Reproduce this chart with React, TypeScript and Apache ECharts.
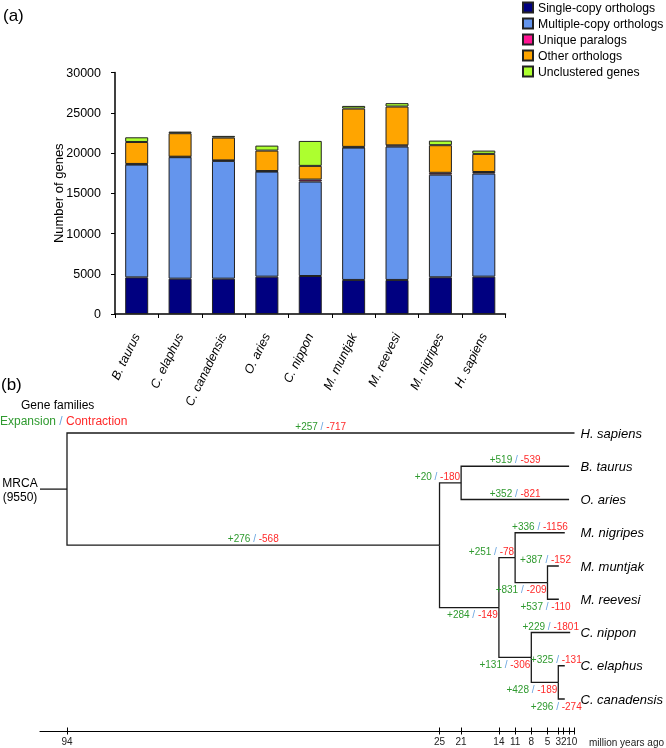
import React, { useEffect, useRef } from "react";
import * as echarts from "echarts";

const FONT = 'Arial, "Liberation Sans", Helvetica, sans-serif';

// ---------- (a) stacked bars ----------
const categories = ["B. taurus", "C. elaphus", "C. canadensis", "O. aries", "C. nippon", "M. muntjak", "M. reevesi", "M. nigripes", "H. sapiens"];
const singleCopy = [4550, 4390, 4390, 4640, 4720, 4230, 4230, 4560, 4640];
const multipleCopy = [14010, 15090, 14630, 13050, 11730, 16440, 16570, 12750, 12800];
const uniqueParalogs = [80, 60, 60, 70, 250, 90, 150, 230, 200];
const otherOrthologs = [2730, 2920, 2835, 2540, 1700, 4760, 4820, 3430, 2250];
const unclustered = [580, 200, 210, 620, 3100, 330, 420, 570, 410];
const barTicks = { min: 0, max: 30000, interval: 5000 };

// ---------- (b) gene family tree ----------
const nodeNames = ["MRCA", "H. sapiens", "Pecora", "Bovidae", "B. taurus", "O. aries", "Cervidae", "Muntiacinae", "M. nigripes", "Muntiacus", "M. muntjak", "M. reevesi", "Cervinae", "C. nippon", "Cervus", "C. elaphus", "C. canadensis"];
const nodeParent = [-1, 0, 0, 2, 3, 3, 2, 6, 7, 7, 9, 9, 6, 12, 12, 14, 14];
const nodeAge = [94, 0, 25, 21, 1, 1, 14, 11, 1.8, 5, 2.9, 2.9, 8, 0.8, 3, 1.8, 1.8];
const expansions = [0, 257, 276, 20, 519, 352, 284, 251, 336, 831, 387, 537, 131, 229, 428, 325, 296];
const contractions = [0, 717, 568, 180, 539, 821, 149, 78, 1156, 209, 152, 110, 306, 1801, 189, 131, 274];
const mrcaFamilies = 9550;
const timeTicks = [94, 25, 21, 14, 11, 8, 5, 3, 2, 1, 0];
const timeMax = 99;

// label placement (style only)
const labelPlace = ["", "mid-top", "mid-top", "end-top", "mid-top", "mid-top", "end-bottom", "end-top", "mid-top", "end-bottom", "start-top", "start-bottom", "end-bottom", "mid-top", "end-bottom", "start-top", "start-bottom"];

const GREEN = "#2f9a2f";
const RED = "#ff2a2a";
const SLASH = "#6aa6e0";

function buildTree() {
  const n = nodeNames.length;
  const children: number[][] = Array.from({ length: n }, () => []);
  nodeParent.forEach((p, i) => { if (p >= 0) children[p].push(i); });
  const ys: number[] = new Array(n).fill(0);
  let tip = 0;
  const visit = (i: number): number => {
    if (children[i].length === 0) { ys[i] = tip++; return ys[i]; }
    const cy = children[i].map(visit);
    ys[i] = (Math.min(...cy) + Math.max(...cy)) / 2;
    return ys[i];
  };
  visit(0);
  const data = nodeNames.map((_, i) => {
    const p = nodeParent[i];
    return [nodeAge[i], ys[i], p >= 0 ? nodeAge[p] : timeMax, p >= 0 ? ys[p] : ys[i], i, children[i].length === 0 ? 1 : 0];
  });
  return { data, tipCount: tip };
}

function txt(x: number, y: number, style: any) {
  return { type: "text", x, y, style: { fontFamily: FONT, fill: "#000", align: "left", verticalAlign: "middle", ...style } };
}

export default function App() {
  const ref = useRef<HTMLDivElement>(null);
  useEffect(() => {
    if (!ref.current) return;
    const chart = echarts.init(ref.current, null, { renderer: "svg" });
    const tree = buildTree();
    const richStyle = {
      g: { fill: GREEN, fontSize: 10, fontFamily: FONT },
      s: { fill: SLASH, fontSize: 10, fontFamily: FONT },
      r: { fill: RED, fontSize: 10, fontFamily: FONT },
    };
    const barSeries = [
      { name: "Single-copy orthologs", data: singleCopy, color: "#000080" },
      { name: "Multiple-copy orthologs", data: multipleCopy, color: "#6495ED" },
      { name: "Unique paralogs", data: uniqueParalogs, color: "#FF1493" },
      { name: "Other orthologs", data: otherOrthologs, color: "#FFA500" },
      { name: "Unclustered genes", data: unclustered, color: "#ADFF2F" },
    ].map((s) => ({
      type: "bar",
      name: s.name,
      data: s.data,
      stack: "total",
      barWidth: 23,
      xAxisIndex: 0,
      yAxisIndex: 0,
      itemStyle: { color: s.color, borderColor: "#222", borderWidth: 1 },
    }));

    const treeSeries = {
      type: "custom",
      xAxisIndex: 1,
      yAxisIndex: 1,
      clip: false,
      encode: { x: [0, 2], y: [1, 3] },
      data: tree.data,
      renderItem: (params: any, api: any) => {
        const i = api.value(4);
        const isTip = api.value(5) === 1;
        const a = api.coord([api.value(2), api.value(3)]);
        const b = api.coord([api.value(0), api.value(1)]);
        const kids: any[] = [
          {
            type: "polyline",
            shape: { points: [a, [a[0], b[1]], b] },
            style: { stroke: "#1a1a1a", lineWidth: 1.3, fill: "none" },
          },
        ];
        if (i > 0) {
          const [h, v] = labelPlace[i].split("-");
          let x = (a[0] + b[0]) / 2;
          let align = "center";
          if (h === "end") { x = b[0] - 1; align = "right"; }
          else if (h === "start") { x = a[0] - 2; align = "center"; }
          const y = v === "top" ? b[1] - 1.5 : b[1] + 2;
          kids.push({
            type: "text",
            x, y,
            style: {
              text: `{g|+${expansions[i]}} {s|/} {r|-${contractions[i]}}`,
              rich: richStyle,
              align,
              verticalAlign: v === "top" ? "bottom" : "top",
              fontSize: 10,
              fontFamily: FONT,
            },
          });
        }
        if (isTip) {
          const x0 = api.coord([0, api.value(1)])[0];
          kids.push({
            type: "text",
            x: x0 + 6,
            y: b[1],
            style: {
              text: nodeNames[i],
              fill: "#000",
              fontSize: 13,
              fontStyle: "italic",
              fontFamily: FONT,
              align: "left",
              verticalAlign: "middle",
            },
          });
        }
        return { type: "group", children: kids };
      },
    };

    const timeAxisBase = {
      type: "value",
      position: "bottom",
      min: 0,
      max: timeMax,
      inverse: true,
      splitLine: { show: false },
    };

    const option: any = {
      animation: false,
      textStyle: { fontFamily: FONT },
      grid: [
        { left: 115, top: 72.5, width: 390.5, height: 241.5, outerBoundsMode: "none" },
        { left: 40, top: 433, width: 534.5, height: 266, outerBoundsMode: "none" },
        { left: 40, top: 433, width: 534.5, height: 298, outerBoundsMode: "none" },
      ],
      legend: {
        orient: "vertical",
        left: 522,
        top: 1.5,
        padding: 0,
        itemWidth: 10,
        itemHeight: 10,
        itemGap: 4,
        icon: "rect",
        selectedMode: false,
        textStyle: { fontSize: 12.2, color: "#000", fontFamily: FONT },
        data: barSeries.map((s) => s.name),
      },
      xAxis: [
        {
          type: "category",
          gridIndex: 0,
          data: categories,
          axisLine: { onZero: false, lineStyle: { color: "#000", width: 1.5 } },
          axisTick: { show: true, length: 4, lineStyle: { color: "#000" } },
          axisLabel: { rotate: 64, interval: 0, fontStyle: "italic", fontSize: 12.5, color: "#000", margin: 20, fontFamily: FONT },
        },
        {
          ...timeAxisBase,
          gridIndex: 1,
          offset: 32,
          axisLine: { show: true, onZero: false, lineStyle: { color: "#000", width: 1.2 } },
          axisTick: { show: true, length: 3.5, customValues: timeTicks, lineStyle: { color: "#000" } },
          axisLabel: { customValues: timeTicks, fontSize: 10, color: "#222", margin: 5, fontFamily: FONT, showMinLabel: true, showMaxLabel: true, hideOverlap: false },
        },
        {
          ...timeAxisBase,
          gridIndex: 2,
          axisLine: { show: false, onZero: false },
          axisTick: { show: true, inside: true, length: 3.5, customValues: timeTicks, lineStyle: { color: "#000" } },
          axisLabel: { show: false },
        },
      ],
      yAxis: [
        {
          type: "value",
          gridIndex: 0,
          min: barTicks.min,
          max: barTicks.max,
          interval: barTicks.interval,
          splitLine: { show: false },
          axisLine: { show: true, onZero: false, lineStyle: { color: "#000", width: 1.5 } },
          axisTick: { show: true, length: 4, lineStyle: { color: "#000" } },
          axisLabel: { fontSize: 12.5, color: "#000", margin: 14, fontFamily: FONT, formatter: (v: number) => String(v) },
          name: "Number of genes",
          nameLocation: "middle",
          nameGap: 50,
          nameMoveOverlap: false,
          nameRotate: 90,
          nameTextStyle: { fontSize: 13, color: "#000", fontFamily: FONT },
        },
        { type: "value", gridIndex: 1, min: 0, max: tree.tipCount - 1, inverse: true, show: false, axisLine: { show: false, onZero: false }, splitLine: { show: false } },
        { type: "value", gridIndex: 2, min: 0, max: 1, show: false, axisLine: { show: false, onZero: false }, splitLine: { show: false } },
      ],
      series: [...barSeries, treeSeries],
      graphic: [
        txt(3, 15, { text: "(a)", fontSize: 17 }),
        txt(1, 384, { text: "(b)", fontSize: 17 }),
        txt(21, 405, { text: "Gene families", fontSize: 12 }),
        txt(0, 421, {
          text: "{g|Expansion} {s|/} {r|Contraction}",
          rich: {
            g: { fill: GREEN, fontSize: 12, fontFamily: FONT },
            s: { fill: SLASH, fontSize: 12, fontFamily: FONT },
            r: { fill: RED, fontSize: 12, fontFamily: FONT },
          },
        }),
        txt(20, 483, { text: "MRCA", fontSize: 12, align: "center" }),
        txt(20, 497, { text: `(${mrcaFamilies})`, fontSize: 12, align: "center" }),
        txt(589, 742, { text: "million years ago", fontSize: 10, fill: "#222" }),
      ],
    };
    chart.setOption(option);
    return () => chart.dispose();
  }, []);
  return <div ref={ref} style={{ position: "fixed", left: 0, top: 0, width: 666, height: 748 }} />;
}
